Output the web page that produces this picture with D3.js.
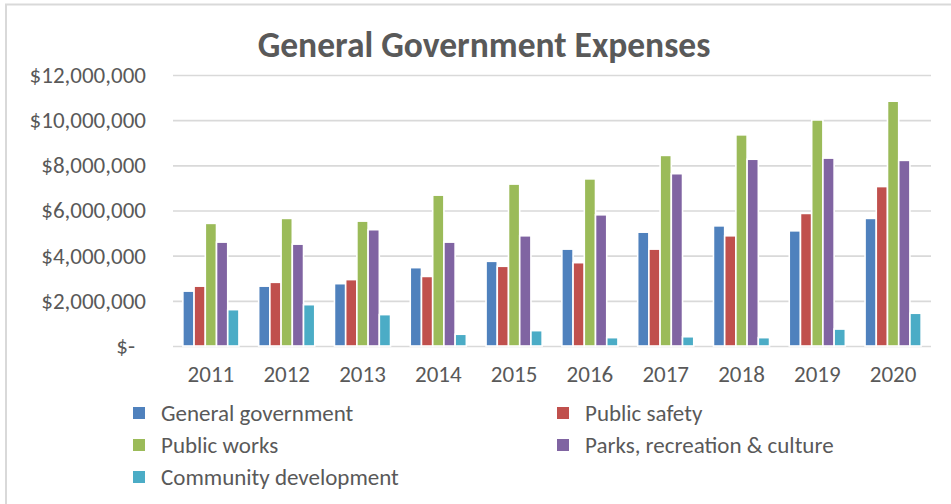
<!DOCTYPE html>
<html>
<head>
<meta charset="utf-8">
<script src="https://cdn.jsdelivr.net/npm/d3@7"></script>
<style>
  html, body { margin: 0; padding: 0; background: #fff; }
  svg { display: block; font-family: Carlito, Calibri, Lato, sans-serif; }
</style>
</head>
<body>
<div id="chart"></div>
<script>
// Chart data
const years = ['2011', '2012', '2013', '2014', '2015', '2016', '2017', '2018', '2019', '2020'];
const seriesNames = ['General government', 'Public safety', 'Public works', 'Parks, recreation & culture', 'Community development'];
const generalGovernment = [2430000, 2650000, 2760000, 3470000, 3750000, 4290000, 5040000, 5320000, 5100000, 5650000];
const publicSafety = [2650000, 2820000, 2940000, 3080000, 3530000, 3690000, 4290000, 4880000, 5870000, 7060000];
const publicWorks = [5430000, 5650000, 5530000, 6680000, 7170000, 7400000, 8440000, 9350000, 10010000, 10840000];
const parksRecreation = [4600000, 4510000, 5150000, 4600000, 4880000, 5810000, 7630000, 8270000, 8320000, 8220000];
const communityDevelopment = [1610000, 1830000, 1390000, 520000, 680000, 370000, 410000, 370000, 750000, 1450000];
const yTicks = [0, 2000000, 4000000, 6000000, 8000000, 10000000, 12000000];

const seriesValues = [generalGovernment, publicSafety, publicWorks, parksRecreation, communityDevelopment];
const colors = ['#4F81BD', '#C0504D', '#9BBB59', '#8064A2', '#4BACC6'];
const TEXT = '#595959';
const GRID = '#D9D9D9';

const width = 951, height = 504;
const plot = { left: 173, right: 931, top: 75, bottom: 346 };

const svg = d3.select('#chart').append('svg')
  .attr('width', width)
  .attr('height', height);

// Chart area frame (runs off the right / bottom edge of the picture)
svg.append('rect')
  .attr('x', 6).attr('y', 4.5)
  .attr('width', 980).attr('height', 540)
  .attr('fill', '#fff')
  .attr('stroke', GRID)
  .attr('stroke-width', 2);

// Title
svg.append('text')
  .attr('x', 484).attr('y', 57)
  .attr('text-anchor', 'middle')
  .attr('font-size', 35.5)
  .attr('font-weight', 700)
  .attr('fill', TEXT)
  .text('General Government Expenses');

// Scales
const x0 = d3.scaleBand()
  .domain(years)
  .range([plot.left, plot.right])
  .paddingInner(0.26)
  .paddingOuter(0.13);

const x1 = d3.scaleBand()
  .domain(d3.range(seriesNames.length))
  .range([0, x0.bandwidth()]);

const y = d3.scaleLinear()
  .domain([0, 12000000])
  .range([plot.bottom, plot.top]);

const money = d3.format(',');
function fmtMoney(v) { return v === 0 ? '$-' : '$' + money(v); }

// Gridlines + y labels
const yAxis = d3.axisLeft(y)
  .tickValues(yTicks)
  .tickSize(-(plot.right - plot.left))
  .tickPadding(27)
  .tickFormat(fmtMoney);

const gy = svg.append('g')
  .attr('transform', `translate(${plot.left},0)`)
  .call(yAxis)
  .attr('font-family', null)
  .attr('font-size', 23);
gy.select('.domain').remove();
gy.selectAll('.tick line')
  .attr('stroke', GRID)
  .attr('stroke-width', 1.6);
gy.selectAll('.tick text')
  .attr('fill', TEXT)
  .attr('dx', d => d === 0 ? -11 : 0);

// Bars
const groups = svg.append('g').selectAll('g')
  .data(years)
  .join('g')
  .attr('transform', d => `translate(${x0(d)},0)`);

groups.selectAll('rect')
  .data((d, i) => seriesValues.map((vals, s) => ({ s, v: vals[i] })))
  .join('rect')
  .attr('x', d => x1(d.s))
  .attr('y', d => y(d.v))
  .attr('width', x1.bandwidth())
  .attr('height', d => y(0) - y(d.v))
  .attr('fill', d => colors[d.s])
  .attr('stroke', '#fff')
  .attr('stroke-width', 1.6);

// x axis labels
const xAxis = d3.axisBottom(x0).tickSize(0).tickPadding(20);
const gx = svg.append('g')
  .attr('transform', `translate(0,${plot.bottom})`)
  .call(xAxis)
  .attr('font-family', null)
  .attr('font-size', 23);
gx.select('.domain').remove();
gx.selectAll('.tick text')
  .attr('fill', TEXT);

// Legend: two columns, filled row by row
const legendCols = [133, 557];
const legendRows = [413, 445, 477];
const legend = svg.append('g')
  .selectAll('g')
  .data(seriesNames)
  .join('g')
  .attr('transform', (d, i) => `translate(${legendCols[i % 2]},${legendRows[Math.floor(i / 2)]})`);

legend.append('rect')
  .attr('x', 0).attr('y', -6)
  .attr('width', 12).attr('height', 12)
  .attr('fill', (d, i) => colors[i]);

legend.append('text')
  .attr('x', 28)
  .attr('dy', '0.35em')
  .attr('font-size', 23)
  .attr('fill', TEXT)
  .text(d => d);
</script>
</body>
</html>
